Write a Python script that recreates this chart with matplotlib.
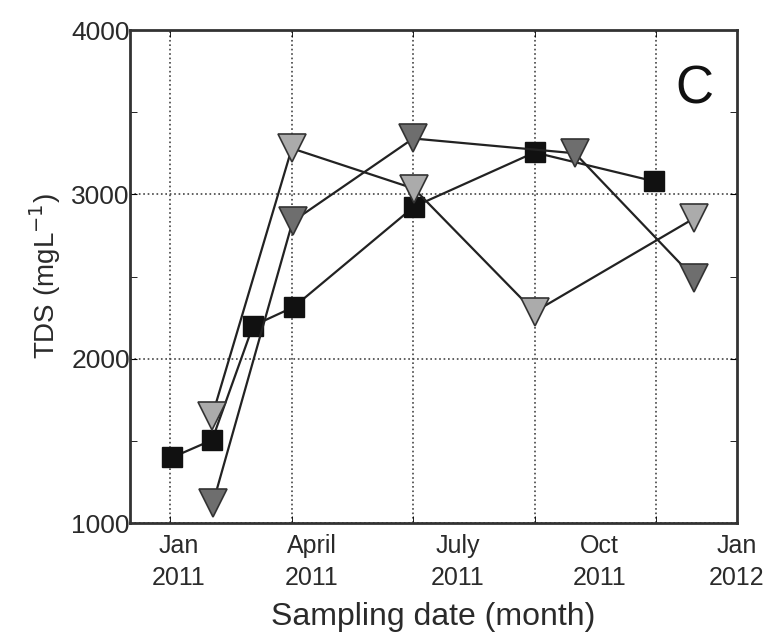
import numpy as np
import matplotlib
matplotlib.use("Agg")
import matplotlib.pyplot as plt

# months since Jan 2011
sq_x = [0.05, 1.03, 2.04, 3.05, 6.02, 9.0, 11.95]
sq_y = [1400, 1505, 2200, 2315, 2925, 3255, 3080]

light_x = [1.03, 3.0, 6.02, 9.0, 12.95]
light_y = [1650, 3280, 3035, 2285, 2855]

dark_x = [1.05, 3.02, 6.0, 10.0, 12.95]
dark_y = [1120, 2835, 3340, 3250, 2490]

grid_pos = [0, 3, 6, 9, 12]
label_pos = [0.2, 3.5, 7.1, 10.6, 14.0]
label_txt = ["Jan\n2011", "April\n2011", "July\n2011", "Oct\n2011", "Jan\n2012"]

plt.rcParams['font.family'] = ['Liberation Sans', 'DejaVu Sans']

fig = plt.figure(figsize=(7.76, 6.39), dpi=100)
ax = fig.add_axes([0.1675, 0.1815, 0.782, 0.7715])

ax.plot(sq_x, sq_y, color='#222222', lw=1.6, marker='s', ms=14,
        mfc='#111111', mec='#111111', zorder=3)
ax.plot(light_x, light_y, color='#222222', lw=1.6, marker='v', ms=20,
        mfc='#ababab', mec='#333333', mew=1.2, zorder=3)
ax.plot(dark_x, dark_y, color='#222222', lw=1.6, marker='v', ms=20,
        mfc='#6e6e6e', mec='#333333', mew=1.2, zorder=3)

ax.set_xlim(-1, 14)
ax.set_ylim(1000, 4000)

ax.set_xticks(label_pos)
ax.set_xticklabels(label_txt, fontsize=18, color='#2a2a2a', linespacing=1.4)
ax.set_xticks(grid_pos, minor=True)
ax.tick_params(axis='x', which='major', length=0, pad=8)
ax.tick_params(axis='x', which='minor', direction='in', length=5, top=True)
ax.grid(True, which='minor', axis='x', linestyle=':', color='#444444', lw=1.2)

ax.set_yticks([1000, 2000, 3000, 4000])
ax.set_yticklabels(['1000', '2000', '3000', '4000'], fontsize=19, color='#2a2a2a')
ax.set_yticks([1500, 2500, 3500], minor=True)
ax.tick_params(axis='y', which='both', direction='in', length=5, right=True, pad=0)
ax.grid(True, which='major', axis='y', linestyle=':', color='#444444', lw=1.2)

for s in ax.spines.values():
    s.set_linewidth(2)
    s.set_color('#333333')

ax.set_xlabel('Sampling date (month)', fontsize=23, color='#2a2a2a', labelpad=9)
ax.set_ylabel('TDS (mgL$^{-1}$)', fontsize=20, color='#2a2a2a', labelpad=6)

ax.text(0.93, 0.88, 'C', transform=ax.transAxes, fontsize=38,
        ha='center', va='center', color='#111111')

fig.savefig('out.png', dpi=100)
